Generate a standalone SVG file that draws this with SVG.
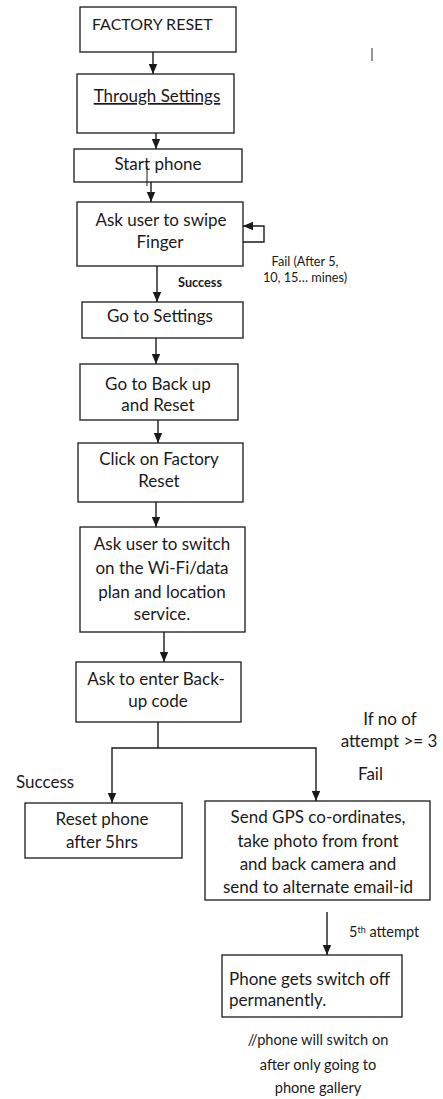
<svg xmlns="http://www.w3.org/2000/svg" width="443" height="1099" viewBox="0 0 443 1099">
  <style>
    .box { fill: #ffffff; stroke: #1a1a1a; stroke-width: 1.3; }
    .t { font-family: Lato, "Open Sans", "Liberation Sans", sans-serif; font-size: 17px; fill: #1a1a1a; }
    .c { text-anchor: middle; }
    .s { font-family: Lato, "Open Sans", "Liberation Sans", sans-serif; font-size: 12.7px; fill: #1a1a1a; }
    .note { font-size: 14.6px; }
    .b { font-weight: bold; }
    .wire { fill: none; stroke: #1a1a1a; stroke-width: 1.4; }
    .arr { marker-end: url(#head); }
  </style>
  <defs>
    <marker id="head" markerUnits="userSpaceOnUse" markerWidth="10" markerHeight="10" viewBox="0 0 10 10" refX="10" refY="5" orient="auto">
      <path d="M0,0.8 L10,5 L0,9.2 Z" fill="#1a1a1a"/>
    </marker>
  </defs>
  <rect width="443" height="1099" fill="#ffffff"/>

  <!-- connectors -->
  <g id="connectors">
    <line class="wire arr" x1="153" y1="52" x2="153" y2="74"/>
    <line class="wire arr" x1="156" y1="133" x2="156" y2="149"/>
    <line class="wire arr" x1="151" y1="182" x2="151" y2="202"/>
    <polyline class="wire arr" points="242,242 264,242 264,226 243,226"/>
    <line class="wire arr" x1="157" y1="266" x2="157" y2="302"/>
    <line class="wire arr" x1="156" y1="338" x2="156" y2="364"/>
    <line class="wire arr" x1="158" y1="420" x2="158" y2="443"/>
    <line class="wire arr" x1="156" y1="502" x2="156" y2="527"/>
    <line class="wire arr" x1="164" y1="632" x2="164" y2="662"/>
    <polyline class="wire" points="158,722 158,748"/>
    <polyline class="wire arr" points="158,748 112,748 112,803"/>
    <polyline class="wire arr" points="158,748 316,748 316,801"/>
    <line class="wire arr" x1="327" y1="912" x2="327" y2="955"/>
  </g>

  <!-- edge labels -->
  <g id="labels">
    <text class="s c" x="305" y="266">Fail (After 5,</text>
    <text class="s c" x="305" y="282">10, 15… mines)</text>
    <text class="s c b" x="200" y="287">Success</text>
    <text class="t c" x="390" y="725">If no of</text>
    <text class="t c" x="389" y="747">attempt &gt;= 3</text>
    <text class="t" x="358" y="780">Fail</text>
    <text class="t" x="16" y="788">Success</text>
    <text class="s" x="349" y="937" style="font-size:14.5px">5<tspan style="font-size:9px" dy="-4.5">th</tspan><tspan dy="4.5"> attempt</tspan></text>
    <text class="t c note" x="318" y="1045">//phone will switch on</text>
    <text class="t c note" x="318" y="1070">after only going to</text>
    <text class="t c note" x="318" y="1093">phone gallery</text>
    <line x1="372" y1="48" x2="372" y2="61" stroke="#333" stroke-width="1"/>
  </g>

  <g id="factory-reset">
    <rect class="box" x="80" y="7" width="156" height="45"/>
    <text class="t" x="92" y="30" style="font-size:16px">FACTORY RESET</text>
  </g>

  <g id="through-settings">
    <rect class="box" x="77" y="74" width="157" height="59"/>
    <text class="t c" x="157" y="102" text-decoration="underline">Through Settings</text>
  </g>

  <g id="start-phone">
    <rect class="box" x="74" y="149" width="168" height="33"/>
    <text class="t c" x="158" y="170">Start phone</text>
    <line x1="147" y1="166" x2="147" y2="186" stroke="#1a1a1a" stroke-width="1"/>
  </g>

  <g id="swipe-finger">
    <rect class="box" x="77" y="202" width="166" height="64"/>
    <text class="t c" x="161" y="226">Ask user to swipe</text>
    <text class="t c" x="160" y="248">Finger</text>
  </g>

  <g id="go-to-settings">
    <rect class="box" x="82" y="302" width="161" height="36"/>
    <text class="t c" x="160" y="322">Go to Settings</text>
  </g>

  <g id="backup-reset">
    <rect class="box" x="80" y="364" width="158" height="56"/>
    <text class="t c" x="158" y="390">Go to Back up</text>
    <text class="t c" x="158" y="411">and Reset</text>
  </g>

  <g id="click-factory-reset">
    <rect class="box" x="78" y="443" width="165" height="59"/>
    <text class="t c" x="159" y="465">Click on Factory</text>
    <text class="t c" x="159" y="487">Reset</text>
  </g>

  <g id="switch-on-wifi">
    <rect class="box" x="80" y="527" width="165" height="105"/>
    <text class="t c" x="162" y="550">Ask user to switch</text>
    <text class="t c" x="162" y="574">on the Wi-Fi/data</text>
    <text class="t c" x="162" y="598">plan and location</text>
    <text class="t c" x="162" y="620">service.</text>
  </g>

  <g id="backup-code">
    <rect class="box" x="76" y="662" width="165" height="60"/>
    <text class="t c" x="156" y="685">Ask to enter Back-</text>
    <text class="t c" x="158" y="707">up code</text>
  </g>

  <g id="reset-phone">
    <rect class="box" x="25" y="803" width="157" height="55"/>
    <text class="t c" x="102" y="825">Reset phone</text>
    <text class="t c" x="102" y="848">after 5hrs</text>
  </g>

  <g id="send-gps">
    <rect class="box" x="205" y="801" width="225" height="99"/>
    <text class="t c" x="318" y="823">Send GPS co-ordinates,</text>
    <text class="t c" x="318" y="847">take photo from front</text>
    <text class="t c" x="318" y="870">and back camera and</text>
    <text class="t c" x="318" y="893">send to alternate email-id</text>
  </g>

  <g id="switch-off">
    <rect class="box" x="222" y="955" width="180" height="62"/>
    <text class="t" x="229" y="985">Phone gets switch off</text>
    <text class="t" x="229" y="1006">permanently.</text>
  </g>
</svg>
